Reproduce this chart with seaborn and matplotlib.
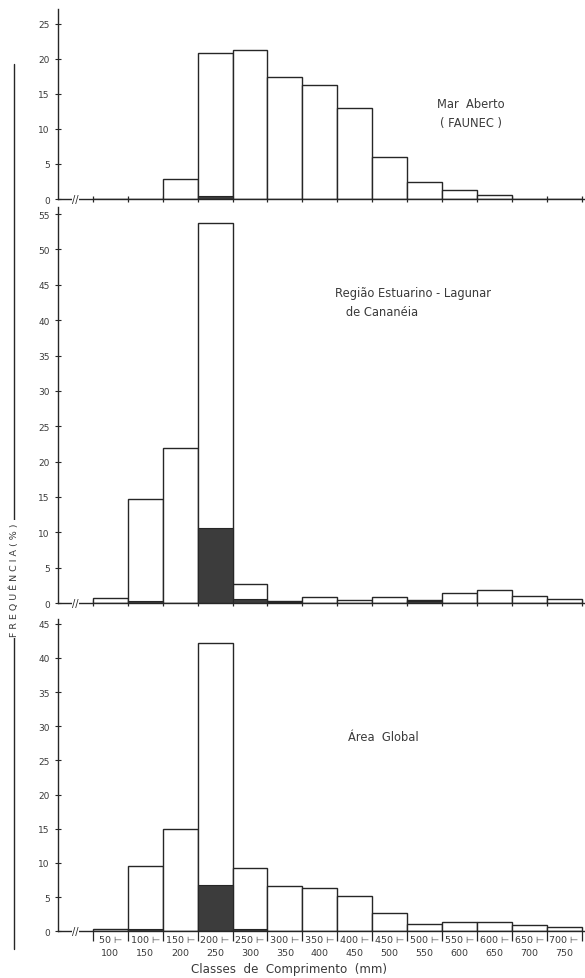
import numpy as np
import matplotlib
matplotlib.use("Agg")
import matplotlib.pyplot as plt
import seaborn as sns
from matplotlib.lines import Line2D

# length classes (mm)
class_lo = [50, 100, 150, 200, 250, 300, 350, 400, 450, 500, 550, 600, 650, 700]
class_hi = [100, 150, 200, 250, 300, 350, 400, 450, 500, 550, 600, 650, 700, 750]
classes = [f"{a}-{b}" for a, b in zip(class_lo, class_hi)]
tick_labels = [f"{a} \u22a2\n{b}" for a, b in zip(class_lo, class_hi)]

# frequencies (%); *_dark = shaded part of each bar
mar_total = [0, 0, 2.9, 20.8, 21.2, 17.4, 16.3, 13.0, 6.0, 2.4, 1.3, 0.6, 0, 0]
mar_dark = [0, 0, 0, 0.4, 0, 0, 0, 0, 0, 0, 0, 0, 0, 0]

est_total = [0.65, 14.7, 21.9, 53.7, 2.7, 0.25, 0.8, 0.4, 0.85, 0.45, 1.4, 1.8, 1.0, 0.55]
est_dark = [0, 0.3, 0, 10.6, 0.6, 0.2, 0, 0, 0, 0.3, 0, 0, 0, 0]

glob_total = [0.35, 9.5, 15.0, 42.2, 9.3, 6.7, 6.4, 5.2, 2.7, 1.0, 1.4, 1.4, 0.9, 0.65]
glob_dark = [0, 0.3, 0, 6.8, 0.4, 0, 0, 0, 0, 0, 0, 0, 0, 0]

sns.set_style("ticks")
plt.rcParams["font.family"] = ["DejaVu Sans"]

LINE = "#262626"
TXT = "#3a3a3a"
DARK = "#3c3c3c"

fig = plt.figure(figsize=(5.85, 9.79), dpi=100)
panels = [
    # (left, bottom, width, height), total, dark, ymax, yticks, label, label pos
    ([0.0991, 0.7957, 0.901, 0.194], mar_total, mar_dark, 27.1, range(0, 26, 5),
     "Mar  Aberto\n( FAUNEC )", (471, 114), "center"),
    ([0.0991, 0.3830, 0.901, 0.4045], est_total, est_dark, 56.0, range(0, 56, 5),
     "Região Estuarino - Lagunar\n   de Cananéia", (335, 303), "left"),
    ([0.0991, 0.0477, 0.901, 0.319], glob_total, glob_dark, 45.7, range(0, 46, 5),
     "Área  Global", (348, 738), "left"),
]

axes = []
for k, (rect, total, dark, ymax, yt, label, (lx, ly), ha) in enumerate(panels):
    ax = fig.add_axes(rect)
    sns.barplot(x=classes, y=total, order=classes, color="white", saturation=1,
                edgecolor=LINE, linewidth=1.0, width=1.0, errorbar=None, ax=ax)
    sns.barplot(x=classes, y=dark, order=classes, color=DARK, saturation=1,
                edgecolor=LINE, linewidth=0.8, width=1.0, errorbar=None, ax=ax)
    ax.set_xlim(-1.5, 13.6)
    ax.set_ylim(0, ymax)
    ax.set_yticks(list(yt))
    ax.tick_params(axis="y", direction="inout", length=4, width=0.8, colors=LINE,
                   labelsize=6.5, labelcolor=TXT, pad=4)
    # class boundaries as major ticks, class centres for the labels
    ax.set_xticks(np.arange(-0.5, 14, 1.0))
    ax.set_xticklabels([])
    ax.set_xticks(np.arange(0, 14), minor=True)
    ax.tick_params(axis="x", which="major", direction="inout", length=5, width=0.9,
                   colors=LINE)
    ax.tick_params(axis="x", which="minor", length=0, labelsize=6.8, labelcolor=TXT,
                   pad=3)
    if k == 2:
        ax.tick_params(axis="x", which="major", direction="out", length=7)
        ax.set_xticklabels(tick_labels, minor=True, linespacing=1.5)
        ax.set_xlabel("Classes  de  Comprimento  (mm)", fontsize=8.6, color=TXT,
                      va="center")
        ax.xaxis.set_label_coords((289 - 58) / 527, -(969 - 932) / 312)
    else:
        ax.set_xticklabels([], minor=True)
    ax.set_ylabel("")
    sns.despine(ax=ax)
    for s in ("left", "bottom"):
        ax.spines[s].set_color(LINE)
        ax.spines[s].set_linewidth(1.0)
    # axis break on the baseline
    ax.text(-1.0, 0, "//", fontsize=7, color=LINE, ha="center", va="center",
            clip_on=False, bbox=dict(facecolor="white", edgecolor="none", pad=0.3))
    fig.text(lx / 585, 1 - ly / 979, label, fontsize=8.3, color=TXT, ha=ha,
             va="center", linespacing=1.5)
    axes.append(ax)

# long vertical rule with the shared y label
fig.add_artist(Line2D([14 / 585, 14 / 585], [1 - 65 / 979, 1 - 950 / 979],
                      transform=fig.transFigure, color=LINE, linewidth=1.0))
fig.text(14 / 585, 1 - 580 / 979, "F R E Q U Ê N C I A ( % )", rotation=90,
         fontsize=6.8, color=TXT, ha="center", va="center",
         bbox=dict(facecolor="white", edgecolor="none", pad=2))

fig.savefig("out.png", dpi=100)
